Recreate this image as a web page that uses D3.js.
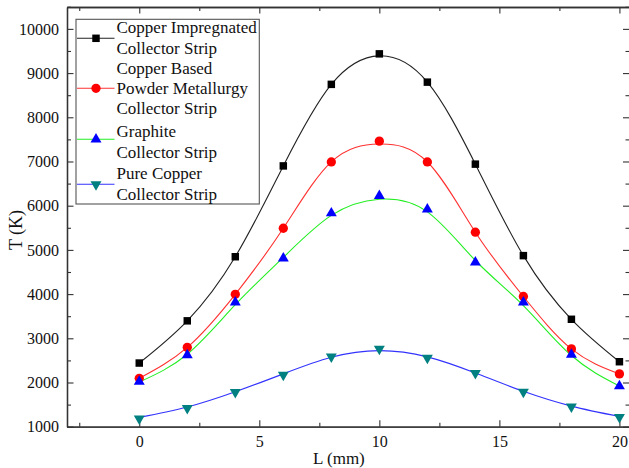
<!DOCTYPE html>
<html><head><meta charset="utf-8">
<script src="https://cdn.jsdelivr.net/npm/d3@7"></script>
<style>
body{margin:0;background:#fff;}
svg{display:block;}
</style></head>
<body><svg id="chart" width="629" height="468"></svg>
<script>
// ---- data ----
const lengths = [0, 2, 4, 6, 8, 10, 12, 14, 16, 18, 20];
const copperImpregnated = [2440, 3395, 4845, 6900, 8745, 9435, 8795, 6940, 4870, 3430, 2470];
const copperImpregnatedFit = [2440, 3395, 4845, 6900, 8745, 9390, 8795, 6940, 4870, 3430, 2470];
const copperBased = [2095, 2795, 3995, 5490, 6990, 7460, 6990, 5400, 3945, 2760, 2195];
const copperBasedFit = [2095, 2795, 3995, 5490, 6990, 7395, 6990, 5400, 3945, 2760, 2195];
const graphite = [2020, 2620, 3815, 4810, 5830, 6225, 5920, 4720, 3815, 2630, 1920];
const graphiteFit = [2010, 2640, 3760, 4830, 5780, 6145, 5860, 4760, 3740, 2610, 1920];
const pureCopper = [1180, 1420, 1780, 2170, 2585, 2760, 2555, 2210, 1785, 1455, 1215];
const pureCopperFit = [1210, 1445, 1790, 2195, 2570, 2720, 2580, 2215, 1800, 1465, 1230];
const legendLabels = [
  ["Copper Impregnated", "Collector Strip"],
  ["Copper Based", "Powder Metallurgy", "Collector Strip"],
  ["Graphite", "Collector Strip"],
  ["Pure Copper", "Collector Strip"]
];
const xTicks = [0, 5, 10, 15, 20];
const xMinorTicks = [-2.5, 2.5, 7.5, 12.5, 17.5];
const yTicks = [1000, 2000, 3000, 4000, 5000, 6000, 7000, 8000, 9000, 10000];
const yMinorTicks = [1500, 2500, 3500, 4500, 5500, 6500, 7500, 8500, 9500, 10500];
const xTitle = "L (mm)";
const yTitle = "T (K)";

// ---- layout ----
const FONT = "Liberation Serif";
const L = 67, T = 7, R = 629.5, B = 426.7;
const svg = d3.select("#chart");
const x = d3.scaleLinear().domain([-3.01, 20.42]).range([L, R]);
const y = d3.scaleLinear().domain([1000, 10495]).range([B, T]);
const axisColor = "#333";

function styleAxis(g){
  g.attr("font-family", FONT).attr("font-size", 16);
  g.selectAll("path.domain").attr("stroke", axisColor).attr("stroke-width", 1.3);
  g.selectAll(".tick line").attr("stroke", axisColor).attr("stroke-width", 1.1);
  g.selectAll(".tick text").attr("fill", "#111");
}
// bottom
svg.append("g").attr("transform", `translate(0,${B})`)
  .call(d3.axisBottom(x).tickValues(xTicks).tickSize(-6.5).tickSizeOuter(0).tickPadding(9).tickFormat(d3.format("d")))
  .call(styleAxis);
svg.append("g").attr("transform", `translate(0,${B})`)
  .call(d3.axisBottom(x).tickValues(xMinorTicks).tickSize(-4).tickSizeOuter(0).tickFormat(""))
  .call(styleAxis);
// top
svg.append("g").attr("transform", `translate(0,${T})`)
  .call(d3.axisTop(x).tickValues(xTicks).tickSize(-6.5).tickSizeOuter(0).tickFormat(""))
  .call(styleAxis);
svg.append("g").attr("transform", `translate(0,${T})`)
  .call(d3.axisTop(x).tickValues(xMinorTicks).tickSize(-4).tickSizeOuter(0).tickFormat(""))
  .call(styleAxis);
// left
svg.append("g").attr("transform", `translate(${L},0)`)
  .call(d3.axisLeft(y).tickValues(yTicks).tickSize(-6.5).tickSizeOuter(0).tickPadding(8).tickFormat(d3.format("d")))
  .call(styleAxis);
svg.append("g").attr("transform", `translate(${L},0)`)
  .call(d3.axisLeft(y).tickValues(yMinorTicks).tickSize(-4).tickSizeOuter(0).tickFormat(""))
  .call(styleAxis);
// right
svg.append("g").attr("transform", `translate(${R},0)`)
  .call(d3.axisRight(y).tickValues(yTicks).tickSize(-6.5).tickSizeOuter(0).tickFormat(""))
  .call(styleAxis);
svg.append("g").attr("transform", `translate(${R},0)`)
  .call(d3.axisRight(y).tickValues(yMinorTicks).tickSize(-4).tickSizeOuter(0).tickFormat(""))
  .call(styleAxis);

// axis titles
svg.append("text").attr("x", 313).attr("y", 464).attr("font-size", 17).attr("font-family", FONT)
  .attr("fill", "#111").text(xTitle);
svg.append("text").attr("transform", "translate(22,230) rotate(-90)").attr("text-anchor", "middle")
  .attr("font-size", 18).attr("font-family", FONT).attr("fill", "#111").text(yTitle);

// ---- series ----
const series = [
  {vals: copperImpregnated, fit: copperImpregnatedFit, line: "#222", fill: "#000", sym: d3.symbolSquare, size: 56, rot: 0},
  {vals: copperBased, fit: copperBasedFit, line: "#ff3030", fill: "#ff0000", sym: d3.symbolCircle, size: 68, rot: 0},
  {vals: graphite, fit: graphiteFit, line: "#22ee22", fill: "#0000ff", sym: d3.symbolTriangle, size: 52, rot: 0},
  {vals: pureCopper, fit: pureCopperFit, line: "#3333ff", fill: "#008080", sym: d3.symbolTriangle, size: 52, rot: 180}
];
const lineGen = d3.line().x((d, i) => x(lengths[i])).y(d => y(d)).curve(d3.curveNatural);
const plot = svg.append("g");
series.forEach(s => {
  plot.append("path").attr("d", lineGen(s.fit)).attr("fill", "none").attr("stroke", s.line).attr("stroke-width", 1.1);
});
series.forEach(s => {
  plot.selectAll(null).data(s.vals).enter().append("path")
    .attr("d", d3.symbol().type(s.sym).size(s.size))
    .attr("transform", (d, i) => `translate(${x(lengths[i])},${y(d)}) rotate(${s.rot})`)
    .attr("fill", s.fill);
});

// ---- legend ----
const lg = svg.append("g");
lg.append("rect").attr("x", 76).attr("y", 19.3).attr("width", 183.3).attr("height", 184.7)
  .attr("fill", "#fff").attr("stroke", "#555").attr("stroke-width", 1.1);
const baselines = [[33.3, 54], [73.5, 94, 114], [137, 158], [179, 200]];
const markerY = [38.3, 88.3, 139.3, 184.3];
legendLabels.forEach((lines, k) => {
  const s = series[k];
  lg.append("line").attr("x1", 77).attr("x2", 114.5).attr("y1", markerY[k]).attr("y2", markerY[k])
    .attr("stroke", s.line).attr("stroke-width", 1.1);
  lg.append("path").attr("d", d3.symbol().type(s.sym).size(s.size))
    .attr("transform", `translate(96,${markerY[k]}) rotate(${s.rot})`).attr("fill", s.fill);
  lines.forEach((t, j) => {
    lg.append("text").attr("x", 116.5).attr("y", baselines[k][j]).attr("font-size", 17)
      .attr("font-family", FONT).attr("fill", "#111").text(t);
  });
});
</script></body></html>
